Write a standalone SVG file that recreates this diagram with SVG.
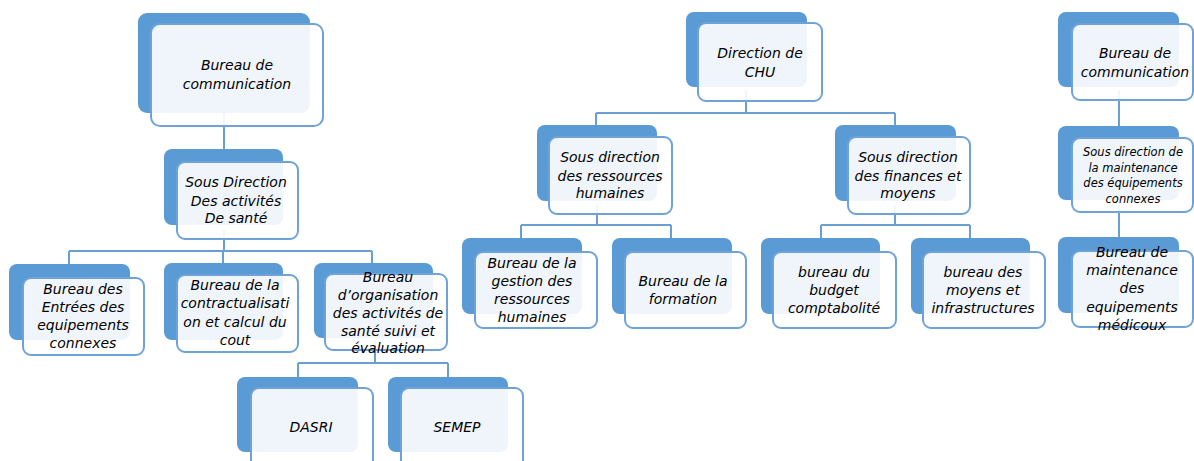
<svg xmlns="http://www.w3.org/2000/svg" width="1194" height="461" viewBox="0 0 1194 461">
<style>
.bk{fill:#5b9bd5}
.fr{fill:#ffffff;fill-opacity:0.9;stroke:#6fa3d8;stroke-width:2}
.t{font-family:"DejaVu Sans",sans-serif;font-style:italic;font-size:14px;fill:#000000;text-anchor:middle}
.s{font-size:11.5px}
.c{fill:none;stroke:#6a9fd3;stroke-width:2}
</style>
<rect width="1194" height="461" fill="#ffffff"/>
<g id="connectors">
<path class="c" d="M224 110V165M224 230V251M69 251H372M69 251V266M223 251V266M372 251V266M375 340V363M298 363H448M298 363V380M448 363V380"/>
<path class="c" d="M746 90V113M596 113H895M596 113V128M895 113V128M597 205V225M521 225H671M521 225V240M671 225V240M895 205V225M821 225H970M821 225V240M970 225V240"/>
<path class="c" d="M1119 90V128M1119 205V239"/>
</g>
<g id="n1"><rect class="bk" x="138" y="13" width="172" height="100" rx="9"/><rect class="fr" x="151" y="24" width="172" height="102" rx="9"/><text class="t" x="237" y="70">Bureau de</text><text class="t" x="237" y="89">communication</text></g>
<g id="n2"><rect class="bk" x="164" y="149" width="119" height="76" rx="8"/><rect class="fr" x="177" y="162" width="121" height="77" rx="8"/><text class="t" x="236" y="187">Sous Direction</text><text class="t" x="236" y="206">Des activités</text><text class="t" x="236" y="223">De santé</text></g>
<g id="n3"><rect class="bk" x="9" y="264" width="121" height="76" rx="8"/><rect class="fr" x="23" y="278" width="121" height="77" rx="8"/><text class="t" x="83" y="294">Bureau des</text><text class="t" x="83" y="312">Entrées des</text><text class="t" x="83" y="330">equipements</text><text class="t" x="83" y="348">connexes</text></g>
<g id="n4"><rect class="bk" x="164" y="263" width="119" height="77" rx="8"/><rect class="fr" x="177" y="275" width="121" height="77" rx="8"/><text class="t" x="235" y="290">Bureau de la</text><text class="t" x="235" y="308">contractualisati</text><text class="t" x="235" y="327">on et calcul du</text><text class="t" x="235" y="345">cout</text></g>
<g id="n5"><rect class="bk" x="314" y="263" width="119" height="75" rx="8"/><rect class="fr" x="325" y="274" width="122" height="76" rx="8"/><text class="t" x="388" y="282">Bureau</text><text class="t" x="388" y="300">d’organisation</text><text class="t" x="388" y="318">des activités de</text><text class="t" x="388" y="336">santé suivi et</text><text class="t" x="388" y="353">évaluation</text></g>
<g id="n6"><rect class="bk" x="237" y="377" width="121" height="75" rx="8"/><rect class="fr" x="251" y="388" width="122" height="80" rx="8"/><text class="t" x="311" y="432">DASRI</text></g>
<g id="n7"><rect class="bk" x="388" y="377" width="120" height="75" rx="8"/><rect class="fr" x="401" y="388" width="122" height="80" rx="8"/><text class="t" x="457" y="432">SEMEP</text></g>
<g id="n8"><rect class="bk" x="686" y="12" width="121" height="75" rx="8"/><rect class="fr" x="698" y="23" width="124" height="78" rx="8"/><text class="t" x="760" y="58">Direction de</text><text class="t" x="760" y="77">CHU</text></g>
<g id="n9"><rect class="bk" x="537" y="125" width="120" height="76" rx="8"/><rect class="fr" x="549" y="137" width="123" height="77" rx="8"/><text class="t" x="610" y="162">Sous direction</text><text class="t" x="610" y="181">des ressources</text><text class="t" x="610" y="198">humaines</text></g>
<g id="n10"><rect class="bk" x="835" y="125" width="121" height="76" rx="8"/><rect class="fr" x="848" y="137" width="122" height="77" rx="8"/><text class="t" x="908" y="162">Sous direction</text><text class="t" x="908" y="181">des finances et</text><text class="t" x="908" y="198">moyens</text></g>
<g id="n11"><rect class="bk" x="462" y="238" width="120" height="76" rx="8"/><rect class="fr" x="475" y="252" width="122" height="76" rx="8"/><text class="t" x="532" y="268">Bureau de la</text><text class="t" x="532" y="286">gestion des</text><text class="t" x="532" y="304">ressources</text><text class="t" x="532" y="322">humaines</text></g>
<g id="n12"><rect class="bk" x="612" y="238" width="120" height="76" rx="8"/><rect class="fr" x="625" y="252" width="121" height="76" rx="8"/><text class="t" x="683" y="286">Bureau de la</text><text class="t" x="683" y="304">formation</text></g>
<g id="n13"><rect class="bk" x="761" y="238" width="119" height="76" rx="8"/><rect class="fr" x="773" y="252" width="123" height="76" rx="8"/><text class="t" x="834" y="277">bureau du</text><text class="t" x="834" y="295">budget</text><text class="t" x="834" y="313">comptabolité</text></g>
<g id="n14"><rect class="bk" x="911" y="238" width="119" height="76" rx="8"/><rect class="fr" x="923" y="252" width="122" height="76" rx="8"/><text class="t" x="983" y="277">bureau des</text><text class="t" x="983" y="295">moyens et</text><text class="t" x="983" y="313">infrastructures</text></g>
<g id="n15"><rect class="bk" x="1058" y="12" width="121" height="75" rx="8"/><rect class="fr" x="1072" y="24" width="121" height="76" rx="8"/><text class="t" x="1135" y="58">Bureau de</text><text class="t" x="1135" y="77">communication</text></g>
<g id="n16"><rect class="bk" x="1058" y="126" width="121" height="74" rx="8"/><rect class="fr" x="1072" y="138" width="121" height="74" rx="8"/><text class="t s" x="1133" y="156">Sous direction de</text><text class="t s" x="1133" y="172">la maintenance</text><text class="t s" x="1133" y="187">des équipements</text><text class="t s" x="1133" y="203">connexes</text></g>
<g id="n17"><rect class="bk" x="1058" y="237" width="121" height="76" rx="8"/><rect class="fr" x="1072" y="251" width="121" height="76" rx="8"/><text class="t" x="1132" y="257">Bureau de</text><text class="t" x="1132" y="275">maintenance</text><text class="t" x="1132" y="293">des</text><text class="t" x="1132" y="312">equipements</text><text class="t" x="1132" y="330">médicoux</text></g>
</svg>
